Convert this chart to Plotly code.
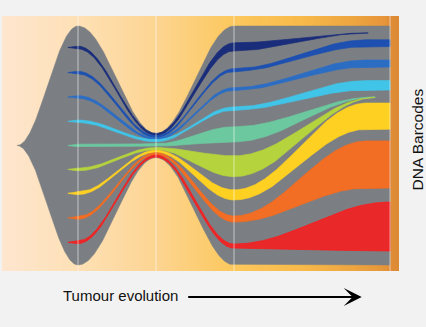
import numpy as np
import plotly.graph_objects as go

# ---------------- data ----------------
# sampling timepoints (vertical guide lines)
timepoints = [1, 2, 3, 5]

# total population envelope (size in % of full scale, centred on 50)
envelope_t = [0.218, 1, 2, 3, 5]
envelope_size = [0, 100, 10.1, 100, 100]

clone_names = ["Barcode 1", "Barcode 2", "Barcode 3", "Barcode 4", "Barcode 5",
               "Barcode 6", "Barcode 7", "Barcode 8", "Barcode 9"]

# keypoints per clone: time, centre position (%), band width (%)
clone_t = [
    [0.87, 1, 2, 3, 4.72],
    [0.87, 1, 2, 3, 4.7, 5],
    [0.87, 1, 2, 3, 4.7, 5],
    [0.87, 1, 2, 3, 4.7, 5],
    [0.87, 1, 2, 3, 4.81],
    [0.87, 1, 2, 3, 4.81],
    [0.87, 1, 2, 3, 4.7, 5],
    [0.87, 1, 2, 3, 4.7, 5],
    [0.87, 1, 2, 3, 5],
]
clone_center = [
    [91.0, 91.0, 54.6, 91.3, 97.1],
    [80.5, 80.5, 53.7, 81.6, 92.8, 92.8],
    [70.3, 70.3, 52.8, 73.7, 84.3, 84.3],
    [60.1, 60.1, 52.0, 65.5, 75.2, 75.2],
    [50.0, 50.0, 50.2, 54.7, 70.3],
    [40.0, 40.0, 48.7, 41.3, 70.1],
    [30.0, 30.0, 47.6, 29.3, 62.3, 62.3],
    [19.7, 19.7, 46.6, 19.2, 42.05, 42.05],
    [9.5, 9.5, 45.6, 7.9, 16.1],
]
clone_width = [
    [0, 1.15, 0.85, 3.35, 0],
    [0, 1.1, 0.85, 1.05, 2.8, 2.8],
    [0, 1.1, 0.85, 1.05, 2.9, 2.9],
    [0, 1.1, 0.85, 1.25, 3.9, 3.9],
    [0, 1.1, 0.9, 6.3, 0],
    [0, 1.1, 0.85, 8.7, 0],
    [0, 1.1, 0.85, 4.2, 10.9, 10.9],
    [0, 1.1, 0.85, 2.5, 19.7, 19.7],
    [0, 1.1, 0.85, 1.7, 20.5],
]

# ---------------- styles ----------------
clone_colors = ["#1a2d7a", "#1d50b0", "#2c6dc4", "#40c4e8", "#6cc89f",
                "#b4d33d", "#fdd022", "#f26e25", "#e9282a"]
clone_edges = ["#1a2d7a", "#1d50b0", "#2c6dc4", "#40c4e8", "#6cc89f",
               "#b4d33d", "#fdd022", "#f56a1c", "#ff1818"]
GRAY = "#7b7f83"
BG = "#f2f2f2"
W, H = 426, 327
X_RANGE = [0, W / 78.0]
Y_RANGE = [-62 / 2.39, 265 / 2.39]
BG_X = [2 / 78.0, 399 / 78.0]
BG_Y = [-6 / 2.39, 249 / 2.39]


def ease(tk, vk, t):
    """cosine easing between successive keypoints"""
    tk = np.asarray(tk, float)
    vk = np.asarray(vk, float)
    out = np.empty_like(t)
    for i, tt in enumerate(t):
        j = np.searchsorted(tk, tt, side="right") - 1
        j = min(max(j, 0), len(tk) - 2)
        u = (tt - tk[j]) / (tk[j + 1] - tk[j])
        u = min(max(u, 0.0), 1.0)
        s = (1 - np.cos(np.pi * u)) / 2
        out[i] = vk[j] + (vk[j + 1] - vk[j]) * s
    return out


fig = go.Figure()

# background gradient (heatmap)
ncol = 200
edges = np.linspace(BG_X[0], BG_X[1], ncol + 1)
mids = (edges[:-1] + edges[1:]) / 2
zz = (mids - BG_X[0]) / (BG_X[1] - BG_X[0])
fig.add_trace(go.Heatmap(
    x=edges, y=BG_Y, z=[zz], zmin=0, zmax=1, showscale=False, hoverinfo="skip",
    colorscale=[[0.0, "#fee6cf"], [0.2, "#fee0b4"], [0.38, "#fdd594"],
                [0.58, "#fcc85e"], [0.75, "#f8ba4a"], [0.88, "#eea640"],
                [0.965, "#e6953a"], [0.975, "#df8d38"], [1.0, "#dc8a34"]],
))

# envelope
te = np.linspace(envelope_t[0], envelope_t[-1], 600)
se = ease(envelope_t, envelope_size, te)
fig.add_trace(go.Scatter(
    x=np.concatenate([te, te[::-1]]),
    y=np.concatenate([50 + se / 2, (50 - se / 2)[::-1]]),
    fill="toself", fillcolor=GRAY, mode="lines", line=dict(color=GRAY, width=0.5),
    hoverinfo="skip", showlegend=False,
))

# clones
for name, tk, ck, wk, col, ecol in zip(clone_names, clone_t, clone_center,
                                        clone_width, clone_colors, clone_edges):
    tt = np.linspace(tk[0], tk[-1], 500)
    c = ease(tk, ck, tt)
    w = ease(tk, wk, tt)
    fig.add_trace(go.Scatter(
        x=np.concatenate([tt, tt[::-1]]),
        y=np.concatenate([c + w / 2, (c - w / 2)[::-1]]),
        fill="toself", fillcolor=col, mode="lines",
        line=dict(color=ecol, width=0.7), name=name,
        hoverinfo="skip", showlegend=False,
    ))

# timepoint guide lines
for tp in timepoints:
    fig.add_shape(type="line", x0=tp, x1=tp, y0=BG_Y[0], y1=BG_Y[1],
                  xref="x", yref="y", layer="above",
                  line=dict(color="rgba(255,255,255,0.55)", width=1))

font = "Liberation Sans, Arial, sans-serif"
fig.add_annotation(text="Tumour evolution", x=61.0 / W, y=1 - 295.5 / H,
                   xref="paper", yref="paper", xanchor="left", yanchor="middle",
                   showarrow=False, font=dict(family=font, size=15, color="#111111"))
fig.add_annotation(text="", x=361.7 / W, y=1 - 297 / H, ax=-175, ay=0,
                   xref="paper", yref="paper", axref="pixel", ayref="pixel",
                   showarrow=True, arrowhead=3, arrowsize=1.5, arrowwidth=2,
                   arrowcolor="#000000", standoff=0)
fig.add_annotation(text="DNA Barcodes", x=417.5 / W, y=1 - 140 / H,
                   xref="paper", yref="paper", xanchor="center", yanchor="middle",
                   textangle=-90, showarrow=False,
                   font=dict(family=font, size=15.5, color="#111111"))

fig.update_layout(
    width=W, height=H, margin=dict(l=0, r=0, t=0, b=0),
    paper_bgcolor=BG, plot_bgcolor=BG, showlegend=False,
    xaxis=dict(range=X_RANGE, visible=False, fixedrange=True),
    yaxis=dict(range=Y_RANGE, visible=False, fixedrange=True),
)

fig.write_html("out.html")
